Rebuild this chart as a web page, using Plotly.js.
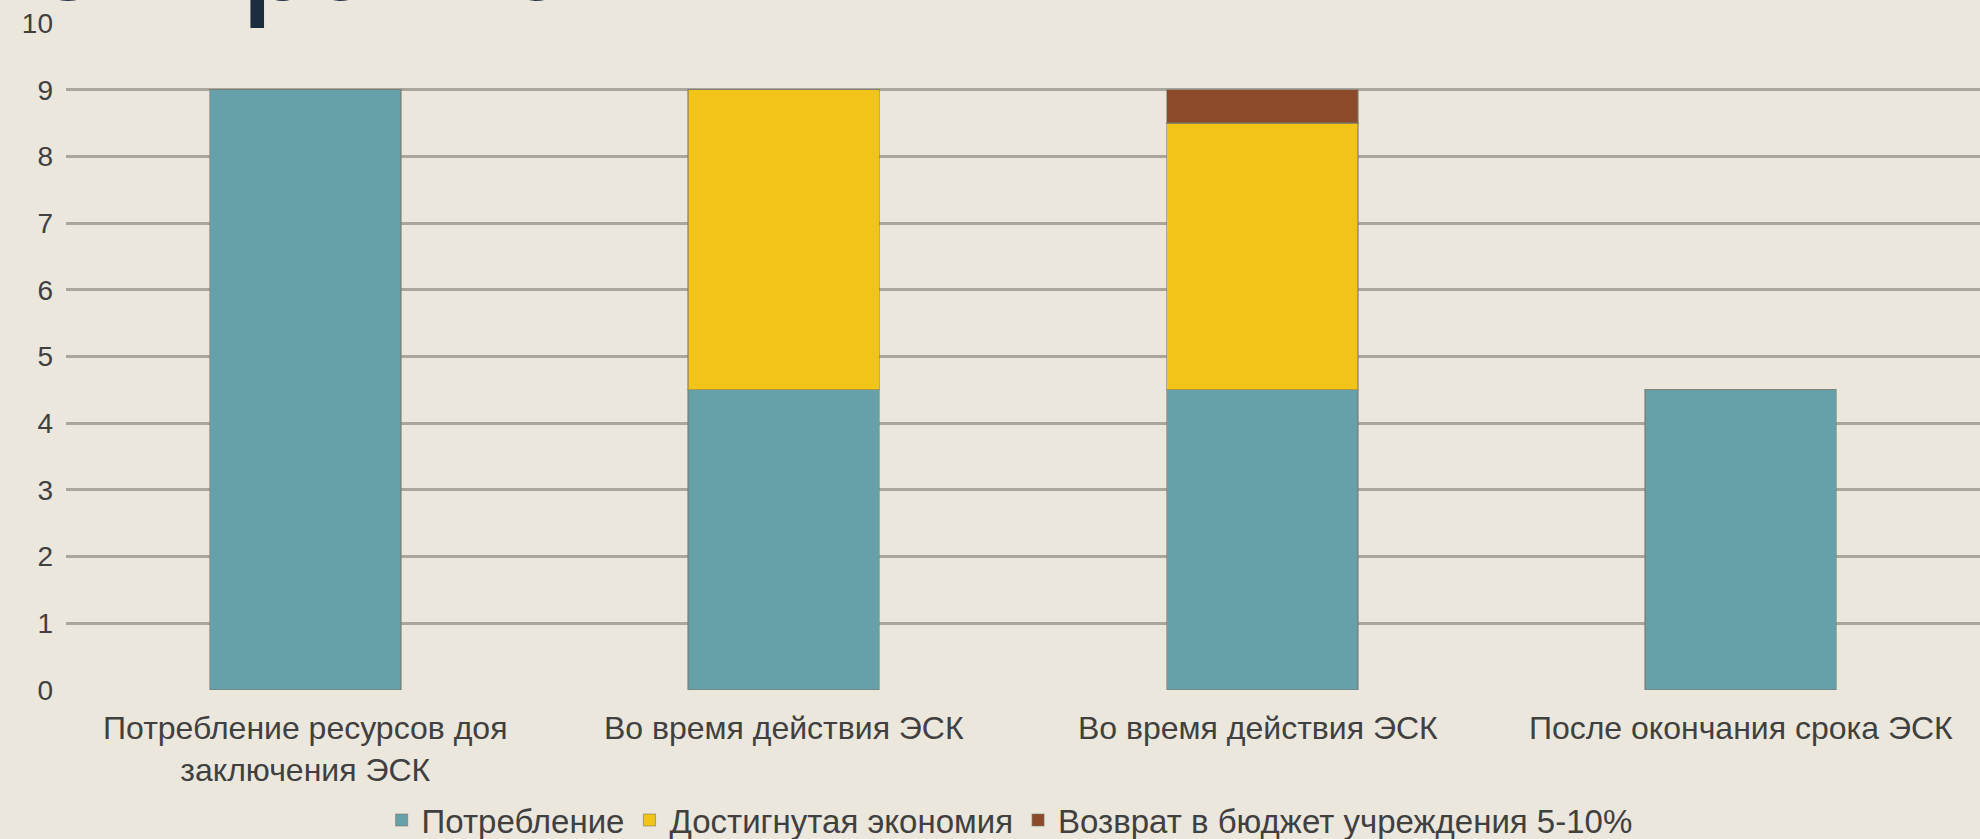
<!DOCTYPE html>
<html>
<head>
<meta charset="utf-8">
<script src="https://cdn.plot.ly/plotly-3.0.1.min.js"></script>
<style>
html,body{margin:0;padding:0;background:#ebe7dd;}
#chart{width:1980px;height:839px;}
</style>
</head>
<body>
<div id="chart"></div>
<script>
const categories = [
  "Потребление ресурсов доя<br>заключения ЭСК",
  "Во время действия ЭСК",
  "Во время действия ЭСК ",
  "После окончания срока ЭСК"
];
const seriesNames = ["Потребление", "Достигнутая экономия", "Возврат в бюджет учреждения 5-10%"];
const consumption = [9, 4.5, 4.5, 4.5];
const savings = [0, 4.5, 4.0, 0];
const budgetReturn = [0, 0, 0.5, 0];
const yTicks = [0, 1, 2, 3, 4, 5, 6, 7, 8, 9, 10];
const colors = ["#66a1aa", "#f1c417", "#8c4a2a"];

const lineStyle = {color: "rgba(120,118,108,0.55)", width: 1.2};
const font = "Liberation Sans, Arial, sans-serif";

const traces = [consumption, savings, budgetReturn].map((vals, i) => ({
  type: "bar",
  name: seriesNames[i],
  x: categories,
  y: vals,
  marker: {color: colors[i], line: lineStyle},
  hoverinfo: "skip"
}));

const layout = {
  width: 1980,
  height: 839,
  barmode: "stack",
  bargap: 0.6,
  paper_bgcolor: "#ebe7dd",
  plot_bgcolor: "#ebe7dd",
  margin: {l: 66, r: 0, t: 23, b: 149, autoexpand: false},
  showlegend: true,
  legend: {
    orientation: "h",
    x: 0.493, xanchor: "center",
    y: -0.195, yanchor: "middle",
    font: {family: font, size: 33, color: "#404040"},
    traceorder: "normal",
    itemwidth: 30
  },
  xaxis: {
    type: "category",
    showgrid: false,
    zeroline: false,
    showline: false,
    ticks: "",
    tickfont: {family: font, size: 32, color: "#404040"},
    ticklabelstandoff: 16
  },
  yaxis: {
    range: [0, 10],
    tickvals: yTicks,
    ticktext: yTicks.map(String),
    showgrid: true,
    gridcolor: "#aaa69c",
    gridwidth: 3,
    zeroline: false,
    showline: false,
    ticks: "",
    tickfont: {family: font, size: 28, color: "#404040"},
    ticklabelstandoff: 12
  },
  annotations: [{
    text: "контракта",
    xref: "paper", yref: "paper",
    x: -0.0537, xanchor: "left",
    y: 0.979, yanchor: "bottom",
    showarrow: false,
    font: {family: "Open Sans, sans-serif", size: 118, color: "#1b2d3f", weight: 600}
  }]
};

Plotly.newPlot("chart", traces, layout, {displayModeBar: false, staticPlot: true});
</script>
</body>
</html>
